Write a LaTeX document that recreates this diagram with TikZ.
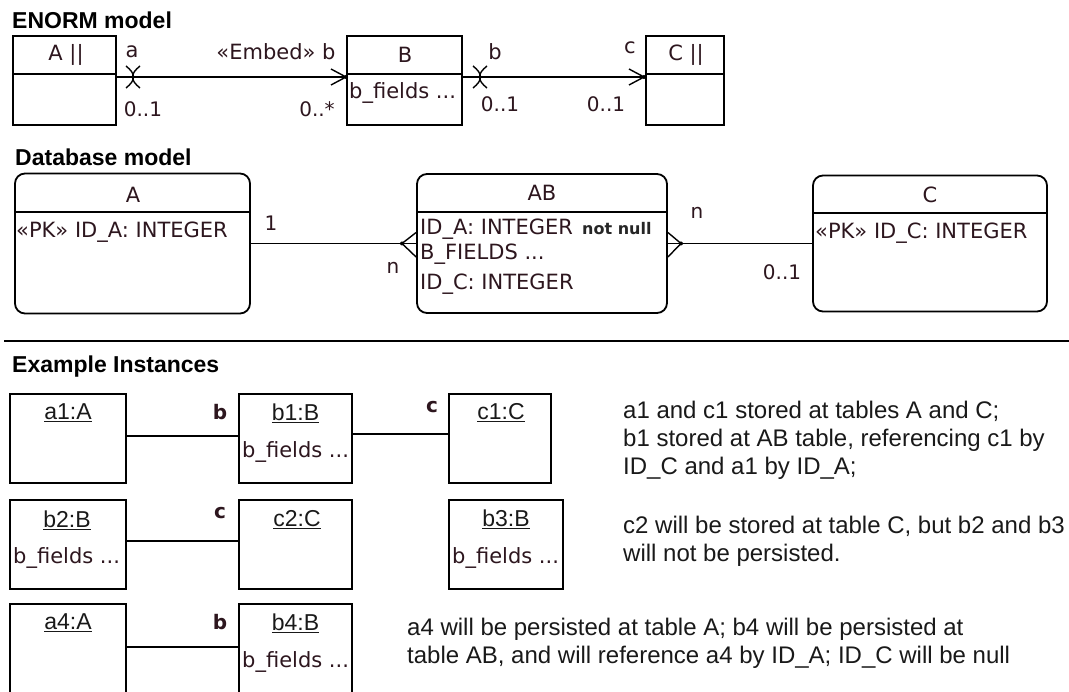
\documentclass[tikz,border=0pt]{standalone}
\usepackage{fontspec}
\setmainfont{Liberation Sans}
\newfontfamily\umlfont{DejaVu Sans}
\definecolor{umlcol}{RGB}{45,22,30}
\begin{document}
\begin{tikzpicture}[x=1pt,y=-1pt,
  umlbox/.style={draw, line width=1.8pt, inner sep=0pt},
  tablebox/.style={draw, line width=1.8pt, inner sep=0pt, rounded corners=10pt},
  conn/.style={line width=1.8pt},
  deco/.style={line width=1.4pt},
  uml/.style={font=\umlfont\fontsize{21}{25}\selectfont, text=umlcol, inner sep=0pt},
  umlmult/.style={font=\umlfont\fontsize{20}{24}\selectfont, text=umlcol, inner sep=0pt},
  umlnote/.style={font=\umlfont\bfseries\fontsize{16}{20}\selectfont, text=black!85, inner sep=0pt},
  titletext/.style={font=\bfseries\fontsize{23}{27}\selectfont, anchor=west, inner sep=0pt},
  expl/.style={font=\fontsize{24}{28}\selectfont, align=left, anchor=west, inner sep=0pt, text=black!90},
  inst/.style={font=\fontsize{23}{27}\selectfont, inner sep=0pt, text=black!90},
  instlab/.style={font=\umlfont\bfseries\fontsize{20}{24}\selectfont, text=umlcol, inner sep=0pt}
]
\clip (0,0) rectangle (1069,692);
\useasboundingbox (0,0) rectangle (1069,692);

% ================= ENORM model =================
\node[titletext] (t1) at (12,20) {ENORM model};

\node[umlbox, minimum width=103, minimum height=89] (eA) at (64.5,80.5) {};
\node[umlbox, minimum width=115, minimum height=89] (eB) at (404.5,80.5) {};
\node[umlbox, minimum width=78, minimum height=89] (eC) at (685,80.5) {};
\draw[conn] (eA.west |- 0,74) -- (eA.east |- 0,74);
\draw[conn] (eB.west |- 0,74) -- (eB.east |- 0,74);
\draw[conn] (eC.west |- 0,74) -- (eC.east |- 0,74);
\node[uml] (eAn) at (66,55) {A \textbar\textbar};
\node[uml] (eBn) at (405,55) {B};
\node[uml] (eCn) at (686,55) {C \textbar\textbar};
\node[uml, anchor=west] (eBf) at (349,93) {b\_fields ...};

% connector A -> B
\draw[conn] ([yshift=3.5pt]eA.east) -- ([yshift=3.5pt]eB.west);
\draw[deco] (126,66) .. controls (136,74) and (136,80) .. (126,88);
\draw[deco] (140,66) .. controls (130,74) and (130,80) .. (140,88);
\draw[deco] (331,69) -- (346,77) -- (331,85);
\fill (346,77) circle[radius=2pt];
\node[uml] (la) at (132,52) {a};
\node[uml] (lemb) at (276,52) {«Embed» b};
\node[umlmult] (m1) at (143,109) {0..1};
\node[umlmult] (m2) at (317,109) {0..*};

% connector B -> C
\draw[conn] ([yshift=3.5pt]eB.east) -- ([yshift=3.5pt]eC.west);
\draw[deco] (473,66) .. controls (483,74) and (483,80) .. (473,88);
\draw[deco] (487,66) .. controls (477,74) and (477,80) .. (487,88);
\draw[deco] (629,69) -- (644,77) -- (629,85);
\fill (644,77) circle[radius=2pt];
\node[uml] (lb) at (495,52) {b};
\node[uml] (lc) at (630,48) {c};
\node[umlmult] (m3) at (500,104) {0..1};
\node[umlmult] (m4) at (606,104) {0..1};

% ================= Database model =================
\node[titletext] (t2) at (15,157) {Database model};

\node[tablebox, minimum width=235, minimum height=140] (dA) at (132.5,243.5) {};
\node[tablebox, minimum width=250, minimum height=139] (dAB) at (542,243.5) {};
\node[tablebox, minimum width=234, minimum height=136] (dC) at (930,243.5) {};
\draw[conn] (dA.west |- 0,212) -- (dA.east |- 0,212);
\draw[conn] (dAB.west |- 0,212) -- (dAB.east |- 0,212);
\draw[conn] (dC.west |- 0,213) -- (dC.east |- 0,213);

\node[uml] (dAn) at (133,195) {A};
\node[uml, anchor=west] (dAf) at (16,232) {«PK» ID\_A: INTEGER};

\node[uml] (dABn) at (542,193) {AB};
\node[uml, anchor=base west] (dABf1) at (420,235) {ID\_A: INTEGER};
\node[umlnote, anchor=base west] (dABnn) at (582,235) {not null};
\node[uml, anchor=base west] (dABf2) at (420,260) {B\_FIELDS ...};
\node[uml, anchor=base west] (dABf3) at (420,290) {ID\_C: INTEGER};

\node[uml] (dCn) at (930,195) {C};
\node[uml, anchor=west] (dCf) at (815,233) {«PK» ID\_C: INTEGER};

% A -- AB (crow's foot at AB)
\coordinate (cfl) at (402,243.5);
\draw[conn] (dA.east) -- (cfl);
\draw[deco] ([yshift=11pt]dAB.west) -- (cfl) -- ([yshift=-13.5pt]dAB.west);
\draw[deco] (cfl) -- (dAB.west);
\fill (cfl) circle[radius=2pt];
\node[umlmult] (n1) at (271,223) {1};
\node[umlmult] (n2) at (393,268) {n};

% AB -- C (crow's foot at AB)
\coordinate (cfr) at (681,243.5);
\draw[conn] (cfr) -- (dC.west);
\draw[deco] ([yshift=11pt]dAB.east) -- (cfr) -- ([yshift=-13.5pt]dAB.east);
\draw[deco] (cfr) -- (dAB.east);
\fill (cfr) circle[radius=2pt];
\node[umlmult] (n3) at (697,213) {n};
\node[umlmult] (n4) at (782,272) {0..1};

% separator
\coordinate (sepL) at (4,341);
\coordinate (sepR) at (1069,341);
\draw[conn] (sepL) -- (sepR);

% ================= Example Instances =================
\node[titletext] (t3) at (12,367) {Example Instances};

% row 1
\node[umlbox, minimum width=116, minimum height=89] (a1) at (68,438.5) {};
\node[umlbox, minimum width=113, minimum height=89] (b1) at (295.5,438.5) {};
\node[umlbox, minimum width=102, minimum height=89] (c1) at (500,438.5) {};
\node[inst] (a1n) at (68,413) {\underline{a1:A}};
\node[inst] (b1n) at (295.5,413) {\underline{b1:B}};
\node[inst] (c1n) at (501,413) {\underline{c1:C}};
\node[uml, anchor=west] (b1f) at (242,452) {b\_fields ...};
\draw[conn] ([yshift=2.5pt]a1.east) -- ([yshift=2.5pt]b1.west);
\draw[conn] ([yshift=4.5pt]b1.east) -- ([yshift=4.5pt]c1.west);
\node[instlab] (r1b) at (220,412) {b};
\node[instlab] (r1c) at (432,407) {c};

% row 2
\node[umlbox, minimum width=116, minimum height=89] (b2) at (68,544.5) {};
\node[umlbox, minimum width=113, minimum height=89] (c2) at (295.5,544.5) {};
\node[umlbox, minimum width=114, minimum height=89] (b3) at (506,544.5) {};
\node[inst] (b2n) at (67,520) {\underline{b2:B}};
\node[inst] (c2n) at (297,520) {\underline{c2:C}};
\node[inst] (b3n) at (506,519) {\underline{b3:B}};
\node[uml, anchor=west] (b2f) at (13,558) {b\_fields ...};
\node[uml, anchor=west] (b3f) at (452,558) {b\_fields ...};
\draw[conn] ([yshift=3.5pt]b2.east) -- ([yshift=3.5pt]c2.west);
\node[instlab] (r2c) at (220,513) {c};

% row 3
\node[umlbox, minimum width=116, minimum height=90] (a4) at (68,649) {};
\node[umlbox, minimum width=113, minimum height=90] (b4) at (295.5,649) {};
\node[inst] (a4n) at (68,623) {\underline{a4:A}};
\node[inst] (b4n) at (295.5,623) {\underline{b4:B}};
\node[uml, anchor=west] (b4f) at (242,662) {b\_fields ...};
\draw[conn] ([yshift=2pt]a4.east) -- ([yshift=2pt]b4.west);
\node[instlab] (r3b) at (220,622) {b};

% explanations
\node[expl] (x1) at (623,440) {a1 and c1 stored at tables A and C;\\b1 stored at AB table, referencing c1 by\\ID\_C and a1 by ID\_A;};
\node[expl] (x2) at (623,541.5) {c2 will be stored at table C, but b2 and b3\\will not be persisted.};
\node[expl] (x3) at (407,643.5) {a4 will be persisted at table A; b4 will be persisted at\\table AB, and will reference a4 by ID\_A; ID\_C will be null};
\end{tikzpicture}
\end{document}
